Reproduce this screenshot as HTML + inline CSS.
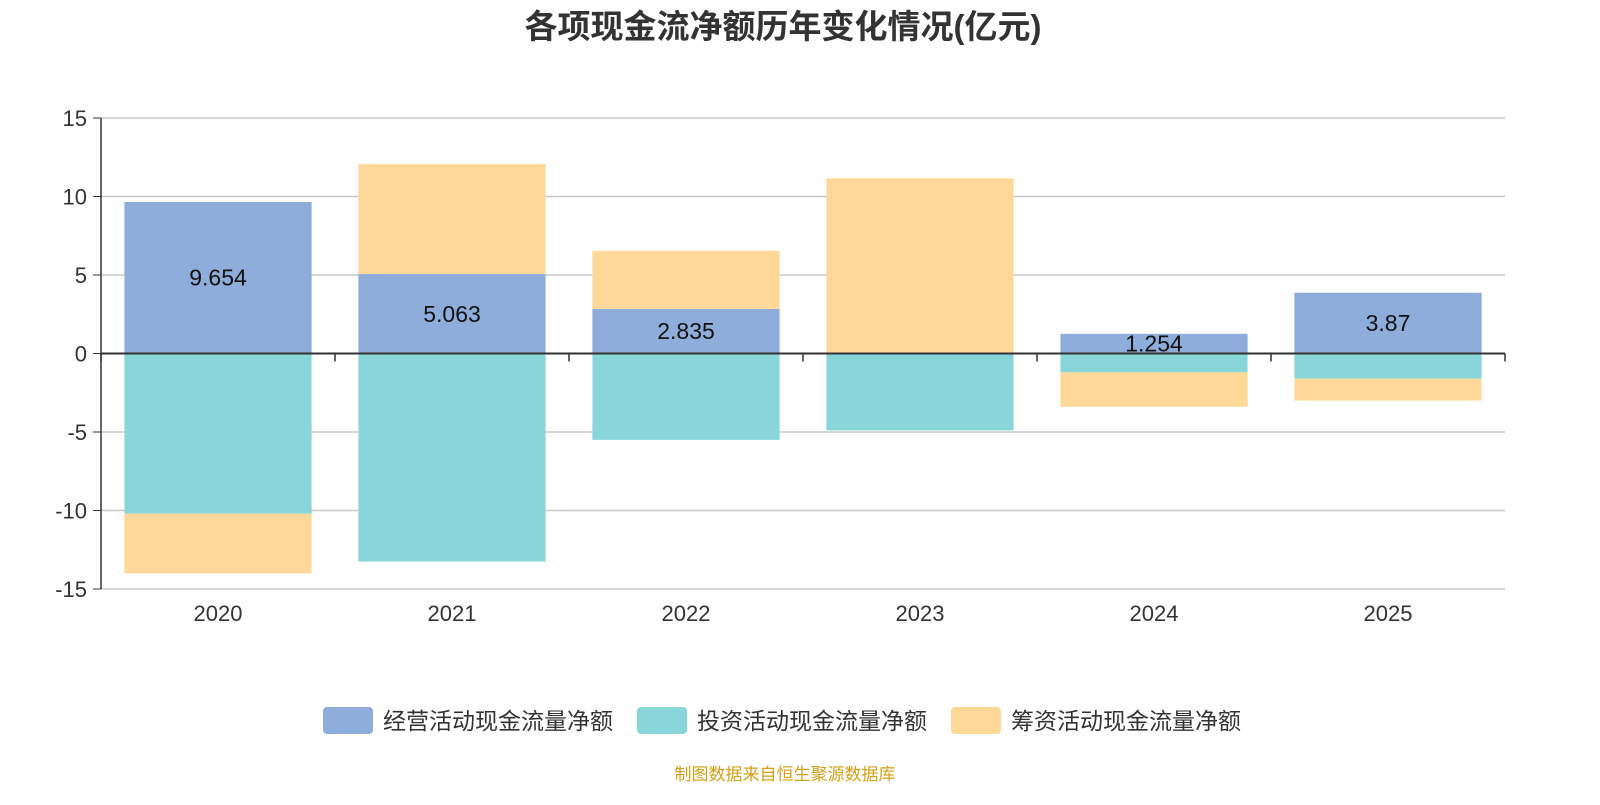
<!DOCTYPE html>
<html><head><meta charset="utf-8"><style>
body{margin:0;background:#fff;width:1600px;height:800px;overflow:hidden;font-family:"Liberation Sans","Noto Sans CJK SC",sans-serif}
</style></head><body>
<svg id="c" width="1600" height="800" xmlns="http://www.w3.org/2000/svg">
<text x="783" y="38" text-anchor="middle" font-size="33" font-weight="bold" fill="#333" font-family="Liberation Sans,Noto Sans CJK SC,sans-serif">各项现金流净额历年变化情况(亿元)</text>
<g id="grid"></g><g id="bars"></g><g id="axes"></g>
<g font-size="23" fill="#333">
<rect x="323" y="707" width="50" height="27" rx="4" fill="#8eadda"/>
<text x="383" y="729">经营活动现金流量净额</text>
<rect x="637" y="707" width="50" height="27" rx="4" fill="#88d5da"/>
<text x="697" y="729">投资活动现金流量净额</text>
<rect x="951" y="707" width="50" height="27" rx="4" fill="#fed899"/>
<text x="1011" y="729">筹资活动现金流量净额</text>
</g>
<text x="785" y="780" text-anchor="middle" font-size="17" fill="#d4a017">制图数据来自恒生聚源数据库</text>
</svg>
<script>
const categories=["2020","2021","2022","2023","2024","2025"];
const operating=[9.654,5.063,2.835,0.01,1.254,3.87];
const investing=[-10.2,-13.25,-5.5,-4.9,-1.2,-1.6];
const financing=[-3.8,7.0,3.7,11.15,-2.2,-1.4];
const yTicks=[15,10,5,0,-5,-10,-15];
const NS="http://www.w3.org/2000/svg";
const x0=101,x1=1505,yTop=118,yBot=589,ymin=-15,ymax=15;
const y=v=>yTop+(ymax-v)/(ymax-ymin)*(yBot-yTop);
const bw=(x1-x0)/categories.length;
function mk(t,a,p){const e=document.createElementNS(NS,t);for(const k in a)e.setAttribute(k,a[k]);p.appendChild(e);return e;}
const grid=document.getElementById('grid'),bars=document.getElementById('bars'),axes=document.getElementById('axes');
yTicks.forEach(t=>{
 const l=mk('line',{x1:x0,x2:x1,y1:y(t),y2:y(t),stroke:'#c8c8c8','stroke-width':1.5},grid);
 
 
 const tk=mk('line',{x1:x0-8,x2:x0,y1:y(t),y2:y(t),stroke:'#333'},axes);
 
 
 const tx=mk('text',{x:x0-14,y:y(t)+8,'text-anchor':'end','font-size':22,fill:'#333'},axes);
 tx.textContent=t;
 
 
});
const yl=mk('line',{x1:x0,x2:x0,y1:yTop,y2:yBot,stroke:'#333','stroke-width':1.5},axes);


const xl=mk('line',{x1:x0,x2:x1,y1:y(0),y2:y(0),stroke:'#333','stroke-width':2},axes);


for(let i=0;i<=categories.length;i++){
 const t=mk('line',{x1:x0+i*bw,x2:x0+i*bw,y1:y(0),y2:y(0)+8,stroke:'#333','stroke-width':1.5},axes);
 
 
}
const series=[[operating,'#8eadda','operating'],[investing,'#88d5da','investing'],[financing,'#fed899','financing']];
categories.forEach((c,i)=>{
 let pos=0,neg=0;const bx=x0+i*bw+bw*0.1,w=bw*0.8;
 series.forEach(([arr,col,nm])=>{
  const v=arr[i];let a,b;
  if(v>=0){a=pos;b=pos+v;pos=b;}else{a=neg;b=neg+v;neg=b;}
  const r=mk('rect',{x:bx,y:Math.min(y(a),y(b)),width:w,height:Math.abs(y(a)-y(b)),fill:col},bars);
  
  
  if(nm==='operating'&&v>0.5){
   const t=mk('text',{x:bx+w/2,y:(y(a)+y(b))/2+8,'text-anchor':'middle','font-size':23,fill:'#111'},bars);
   t.textContent=v;
   
   
  }
 });
 const t=mk('text',{x:x0+i*bw+bw/2,y:621,'text-anchor':'middle','font-size':22,fill:'#333'},axes);
 t.textContent=c;
 
 
});
</script>
</body></html>
